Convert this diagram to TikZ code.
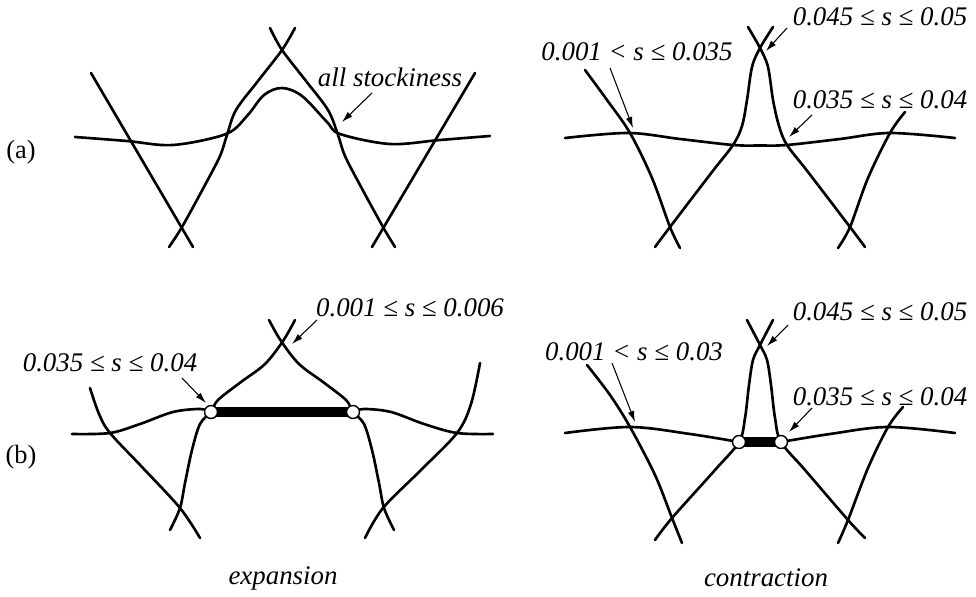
\documentclass[tikz,border=0pt]{standalone}
\usepackage{fontspec}
\setmainfont{Liberation Serif}
\usetikzlibrary{arrows.meta}
\newcommand{\LW}{1.5pt}
\newcommand{\lbl}[1]{\textit{#1}}

\begin{document}
\begin{tikzpicture}[
    x=0.02cm, y=-0.02cm,
    member/.style={draw=black, line width=\LW, line cap=round},
    curve/.style={member, smooth, tension=0.55},
    bar/.style={draw=black, line width=5.6pt},
    joint/.style={circle, draw=black, fill=white, line width=0.8pt, minimum size=2.6mm, inner sep=0pt},
    pointer/.style={-{Latex[length=2.2mm, width=1.3mm]}, line width=0.6pt},
    tag/.style={font=\fontsize{15.3}{18}\selectfont, inner sep=0pt},
    part/.style={font=\fontsize{15}{18}\selectfont, inner sep=0pt},
  ]
  \useasboundingbox (0,0) rectangle (976,597);

  % --- (a) expansion, one smooth arch for all stockiness
  \begin{scope}
    \draw[curve] plot coordinates {(75,137) (127,141) (173,145) (226,134) (247,116) (264,95)
      (282,88) (302,96) (327,122) (340,134) (390,144) (440,140) (490,136)};
    \draw[member] (91,73) -- (193,247);
    \draw[member] (475,73) -- (372,247);
    \draw[curve] plot coordinates {(169,247) (182,227) (205,185) (220,156) (227,135) (236,110)
      (258,81) (282,50) (295,28)};
    \draw[curve] plot coordinates {(270,28) (282,50) (306,81) (328,110) (338,135) (345,156)
      (360,185) (383,227) (395,247)};
    \node[tag] (stock) at (390,77) {\lbl{all stockiness}};
    \coordinate (stockS) at (372,93);
    \coordinate (stockT) at (342,122);
    \draw[pointer] (stockS) -- (stockT);
  \end{scope}

  % --- (a) contraction, peak narrowed at the top
  \begin{scope}
    \draw[curve] plot coordinates {(565,138) (628,133) (680,139) (733,145) (760,145.5)
      (787,145) (840,139) (890,133) (955,138)};
    \draw[curve] plot coordinates {(585,70) (607,100) (630,133) (652,178) (670,227) (680,248)};
    \draw[curve] plot coordinates {(905,112) (890,133) (868,178) (850,227) (838,248)};
    \draw[curve] plot coordinates {(655,247) (670,227) (712,172) (733,145) (742,126)
      (747,100) (752,67) (760,48) (773,27)};
    \draw[curve] plot coordinates {(748,27) (760,48) (768,67) (773,100) (779,126)
      (787,145) (808,172) (850,227) (865,247)};
    \node[tag] (topA) at (880,17) {\lbl{0.045 ≤ s ≤ 0.05}};
    \node[tag] (leftA) at (637,52) {\lbl{0.001 < s ≤ 0.035}};
    \node[tag] (midA) at (880,100) {\lbl{0.035 ≤ s ≤ 0.04}};
    \coordinate (topAS) at (787,28);
    \coordinate (topAT) at (766,51);
    \coordinate (leftAS) at (610,68);
    \coordinate (leftAT) at (633,128);
    \coordinate (midAS) at (812,115);
    \coordinate (midAT) at (789,137);
    \draw[pointer] (topAS) -- (topAT);
    \draw[pointer] (leftAS) -- (leftAT);
    \draw[pointer] (midAS) -- (midAT);
  \end{scope}

  % --- (b) expansion, wide tie between the two joints
  \begin{scope}
    \coordinate (jEl) at (211,412);
    \coordinate (jEr) at (353,412);
    \draw[curve] plot coordinates {(72,434) (110,433) (140,424) (173,412) (200,409) (jEl)};
    \draw[curve] plot coordinates {(jEr) (364,409) (391,412) (424,424) (457,433) (493,434)};
    \draw[curve] plot coordinates {(90,388) (99,414) (110,433) (142,467) (180,508) (200,538)};
    \draw[curve] plot coordinates {(480,363) (471,404) (457,433) (421,470) (383,508) (365,538)};
    \draw[curve] plot coordinates {(170,530) (180,508) (185,483) (192,450) (200,424) (jEl)
      (218,400) (241,382) (265,364) (283,341) (295,320)};
    \draw[curve] plot coordinates {(269,320) (281,341) (299,364) (323,382) (346,400) (jEr)
      (364,424) (372,450) (379,483) (384,508) (394,530)};
    \draw[bar] (jEl) -- (jEr);
    \node[joint] (jointEl) at (jEl) {};
    \node[joint] (jointEr) at (jEr) {};
    \node[tag] (topB) at (410,308) {\lbl{0.001 ≤ s ≤ 0.006}};
    \node[tag] (leftB) at (110,363) {\lbl{0.035 ≤ s ≤ 0.04}};
    \coordinate (topBS) at (317,320);
    \coordinate (topBT) at (292,344);
    \coordinate (leftBS) at (182,378);
    \coordinate (leftBT) at (206,403);
    \draw[pointer] (topBS) -- (topBT);
    \draw[pointer] (leftBS) -- (leftBT);
  \end{scope}

  % --- (b) contraction, short tie below the narrow peak
  \begin{scope}
    \coordinate (jCl) at (739,442);
    \coordinate (jCr) at (781,442);
    \draw[curve] plot coordinates {(565,433) (630,427) (690,434) (jCl)};
    \draw[curve] plot coordinates {(jCr) (830,434) (888,427) (955,433)};
    \draw[curve] plot coordinates {(587,365) (610,395) (630,427) (655,475) (672,518) (682,543)};
    \draw[curve] plot coordinates {(903,407) (888,427) (868,468) (848,520) (838,543)};
    \draw[curve] plot coordinates {(655,540) (672,518) (715,470) (jCl) (745,418) (749,385)
      (753,360) (760,345) (773,320)};
    \draw[curve] plot coordinates {(747,320) (760,345) (767,360) (771,385) (775,418) (jCr)
      (805,470) (848,520) (865,538)};
    \draw[bar] (jCl) -- (jCr);
    \node[joint] (jointCl) at (jCl) {};
    \node[joint] (jointCr) at (jCr) {};
    \node[tag] (topC) at (880,312) {\lbl{0.045 ≤ s ≤ 0.05}};
    \node[tag] (leftC) at (634,352) {\lbl{0.001 < s ≤ 0.03}};
    \node[tag] (midC) at (880,397) {\lbl{0.035 ≤ s ≤ 0.04}};
    \coordinate (topCS) at (788,325);
    \coordinate (topCT) at (767,346);
    \coordinate (leftCS) at (612,363);
    \coordinate (leftCT) at (635,422);
    \coordinate (midCS) at (812,408);
    \coordinate (midCT) at (789,432);
    \draw[pointer] (topCS) -- (topCT);
    \draw[pointer] (leftCS) -- (leftCT);
    \draw[pointer] (midCS) -- (midCT);
  \end{scope}

  % --- row and column captions
  \node[part] (rowA) at (21,152) {(a)};
  \node[part] (rowB) at (21,457) {(b)};
  \node[tag] (colE) at (283,578) {\lbl{expansion}};
  \node[tag] (colC) at (766,578) {\lbl{contraction}};

\end{tikzpicture}
\end{document}
